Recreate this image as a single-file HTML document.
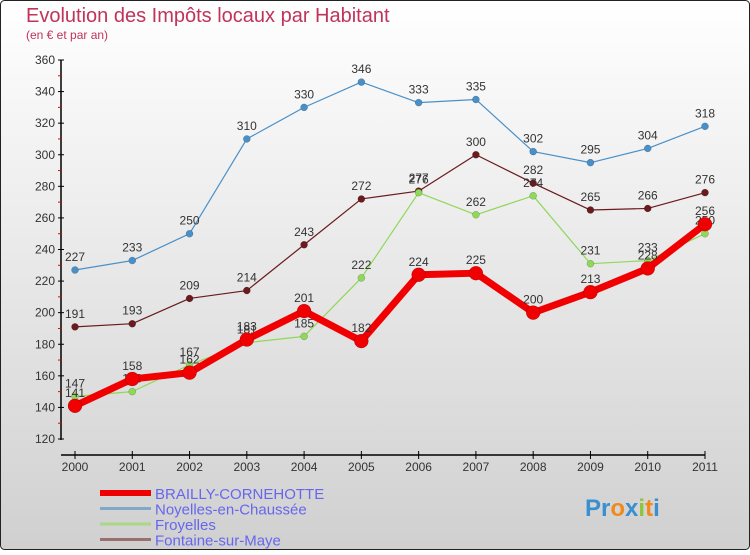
<!DOCTYPE html>
<html><head><meta charset="utf-8"><style>
body{margin:0;width:750px;height:550px;overflow:hidden;font-family:"Liberation Sans",sans-serif}
</style></head><body>
<svg width="750" height="550" xmlns="http://www.w3.org/2000/svg">
<defs><linearGradient id="bg" x1="0" y1="0" x2="0" y2="1"><stop offset="0" stop-color="#ffffff"/><stop offset="1" stop-color="#d0d0d0"/></linearGradient></defs>
<rect x="0.5" y="0.5" width="749" height="549" rx="4" fill="url(#bg)" stroke="#222"/>
<text x="26" y="22" font-size="20" fill="#c0335a">Evolution des Impôts locaux par Habitant</text>
<text x="26" y="39" font-size="12" fill="#c0335a">(en € et par an)</text>
<g id="axes"></g>
<g id="series"></g>
<g id="legend"></g>
<text x="585" y="516" font-size="24" font-weight="bold"><tspan fill="#3a8fd0">Pr</tspan><tspan fill="#f08a1c">o</tspan><tspan fill="#3a8fd0">x</tspan><tspan fill="#8cc63f">i</tspan><tspan fill="#f08a1c">t</tspan><tspan fill="#3a8fd0">i</tspan></text>
</svg>
<script>
const years=["2000","2001","2002","2003","2004","2005","2006","2007","2008","2009","2010","2011"];
const yTicks=[120,140,160,180,200,220,240,260,280,300,320,340,360];
const brailly=[141,158,162,183,201,182,224,225,200,213,228,256];
const noyelles=[227,233,250,310,330,346,333,335,302,295,304,318];
const froyelles=[147,150,167,181,185,222,276,262,274,231,233,250];
const fontaine=[191,193,209,214,243,272,277,300,282,265,266,276];
const NS="http://www.w3.org/2000/svg";
const X=i=>75+i*(630/11);
const Y=v=>439-(v-120)*(379/240);
function mk(tag,attrs,parent){const e=document.createElementNS(NS,tag);for(const k in attrs)e.setAttribute(k,attrs[k]);parent.appendChild(e);return e;}
const ax=document.getElementById('axes');
let l=mk('line',{x1:61,y1:60,x2:61,y2:440,stroke:'#000','stroke-width':1.5},ax);


l=mk('line',{x1:61,y1:455,x2:705,y2:455,stroke:'#000','stroke-width':1.5},ax);


yTicks.forEach((v,i)=>{
  mk('line',{x1:58,x2:64,y1:Y(v),y2:Y(v),stroke:'#000'},ax);
  const t=mk('text',{x:55,y:Y(v)+4,'font-size':12,'text-anchor':'end',fill:'#333'},ax);
  t.textContent=v;
  
  
  if(i<yTicks.length-1)mk('line',{x1:58,x2:61,y1:Y(v+10),y2:Y(v+10),stroke:'#e00'},ax);
});
years.forEach((y,i)=>{
  mk('line',{x1:X(i),x2:X(i),y1:451,y2:459,stroke:'#000'},ax);
  const t=mk('text',{x:X(i),y:471,'font-size':12,'text-anchor':'middle',fill:'#333'},ax);
  t.textContent=y;
  
  
});
const sg=document.getElementById('series');
function drawSeries(data,color,w,r,name){
  const g=mk('g',{},sg);
  
  
  const p=mk('polyline',{points:data.map((v,i)=>X(i)+','+Y(v)).join(' '),fill:'none',stroke:color,'stroke-width':w,'stroke-linejoin':'round'},g);
  
  
  data.forEach((v,i)=>{
    const c=mk('circle',{cx:X(i),cy:Y(v),r:r,fill:color,stroke:'rgba(0,0,0,0.3)','stroke-width':0.5},g);
    
    
    const t=mk('text',{x:X(i),y:Y(v)-9,'font-size':12,'text-anchor':'middle',fill:'#333'},g);
    t.textContent=v;
    
    
  });
}
drawSeries(noyelles,'#4a90c8',1.2,3.5,'noyelles');
drawSeries(fontaine,'#6b1a1e',1.2,3.5,'fontaine');
drawSeries(froyelles,'#8fd858',1.2,3.5,'froyelles');
drawSeries(brailly,'#f00000',7,7,'brailly');
const lg=document.getElementById('legend');
const leg=[['BRAILLY-CORNEHOTTE','#ee0000',6],['Noyelles-en-Chaussée','#80a8c8',3],['Froyelles','#a8d888',3],['Fontaine-sur-Maye','#987070',3]];
leg.forEach((e,i)=>{
  const y=493+i*15.5;
  const ln=mk('line',{x1:100,x2:151,y1:y,y2:y,stroke:e[1],'stroke-width':e[2]},lg);
  
  
  const t=mk('text',{x:155,y:y+6,'font-size':15,fill:'#6666ee'},lg);
  t.textContent=e[0];
  
  
});
</script>
</body></html>
